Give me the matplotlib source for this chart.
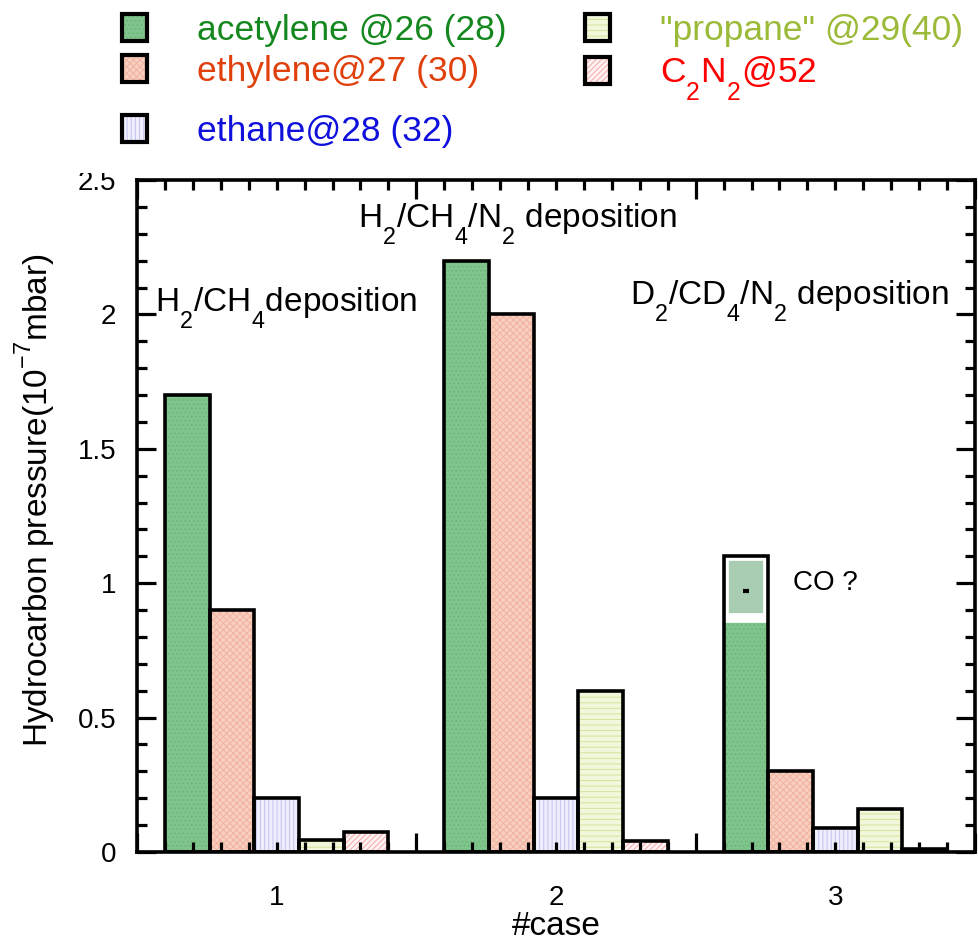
import matplotlib
matplotlib.use('Agg')
import matplotlib.pyplot as plt
from matplotlib.patches import Patch, Rectangle
from matplotlib.legend_handler import HandlerTuple
import numpy as np

try:
    import matplotlib._mathtext as _mt
    _mt.FontConstantsBase.sub1 = 0.95
    _mt.FontConstantsBase.sub2 = 0.95
    _mt.FontConstantsBase.sup1 = 0.9
except Exception:
    pass

# ---------------- data ----------------
cases = [1, 2, 3]
case_labels = ['1', '2', '3']
acetylene = [1.70, 2.20, 0.87]
ethylene = [0.90, 2.00, 0.30]
ethane = [0.20, 0.20, 0.09]
propane = [0.045, 0.60, 0.16]
c2n2 = [0.075, 0.04, 0.012]
co_case = 3
co_bottom = 0.87
co_top = 1.10
co_mark = 0.97

series_labels = ['acetylene @26 (28)', 'ethylene@27 (30)', 'ethane@28 (32)',
                 '"propane" @29(40)', r'C$_2$N$_2$@52']
yticks = [0, 0.5, 1, 1.5, 2, 2.5]
ytick_labels = ['0', '0.5', '1', '1.5', '2', '2.5']
xlabel = '#case'
ylabel = r'Hydrocarbon pressure(10$^{-7}$mbar)'
notes = [r'H$_2$/CH$_4$deposition', r'H$_2$/CH$_4$/N$_2$ deposition',
         r'D$_2$/CD$_4$/N$_2$ deposition', 'CO ?']
note_pos = [(0.564, 2.01), (1.291, 2.32), (2.265, 2.035), (2.849, 0.975)]

# ---------------- style ----------------
plt.rcParams['font.family'] = ['Liberation Sans', 'DejaVu Sans']
plt.rcParams['mathtext.fontset'] = 'custom'
plt.rcParams['mathtext.rm'] = 'Liberation Sans'
plt.rcParams['mathtext.it'] = 'Liberation Sans:italic'
plt.rcParams['mathtext.bf'] = 'Liberation Sans:bold'
plt.rcParams['hatch.linewidth'] = 0.7

fills = ['#80c48c', '#f8cfc0', '#eeeefc', '#f1f7da', '#fff2f2']
hatch_cols = ['#6ab679', '#f1b39f', '#c2c2f2', '#d3e49c', '#f5a8a8']
hatches = ['....', 'xxxxx', '||||', '---', '//////']
text_cols = ['#14881e', '#e0400c', '#1010dd', '#9aba38', '#ff0000']

fig = plt.figure(figsize=(9.79, 9.44), dpi=100)
ax = fig.add_axes([137/979, 1-852/944, (975-137)/979, (852-180)/944])

series = [acetylene, ethylene, ethane, propane, c2n2]
width = 0.16
x = np.array(cases, dtype=float)
for i, vals in enumerate(series):
    xs = x + (i - 2) * width
    ax.bar(xs, vals, width, color=fills[i], hatch=hatches[i],
           edgecolor=hatch_cols[i], linewidth=0, zorder=1)
    outline = np.array(vals, dtype=float)
    if i == 0:
        outline = np.where(x == co_case, co_top, outline)
    ax.bar(xs, outline, width, fill=False, edgecolor='black',
           linewidth=2.6, zorder=1.2)

# CO? box on top of case-3 acetylene bar
co_x = co_case - 2 * width
ax.bar([co_x], [co_top - co_bottom], width, bottom=[co_bottom],
       color='#a9cdb2', edgecolor='white', linewidth=7, zorder=1.1)
ax.plot([co_x], [co_mark], marker='_', markersize=5, mew=3, color='black',
        zorder=3)

ax.set_xlim(0.5, 3.5)
ax.set_ylim(0, 2.5)

# x ticks: long unlabeled majors between cases, minor ticks every 0.1 w/ labels at cases
ax.set_xticks([0.5, 1.5, 2.5, 3.5])
ax.set_xticklabels([])
minor_x = np.round(np.arange(0.5, 3.501, 0.1), 2)
minor_lab = [case_labels[cases.index(int(round(v)))] if abs(v - round(v)) < 1e-6 else ''
             for v in minor_x]
ax.set_xticks(minor_x, labels=minor_lab, minor=True)

ax.set_yticks(yticks, labels=ytick_labels)
ax.set_yticks(np.round(np.arange(0, 2.501, 0.1), 2), minor=True)

ax.tick_params(which='both', direction='in', top=True, right=True,
               width=2.3, color='black', labelsize=20)
ax.tick_params(which='major', length=14)
ax.tick_params(which='minor', length=7.5)
ax.tick_params(axis='y', which='major', pad=15)
ax.tick_params(axis='x', which='minor', pad=24)

for s in ax.spines.values():
    s.set_linewidth(2.6)

ax.set_xlabel(xlabel, fontsize=24, labelpad=0)
ax.set_ylabel(ylabel, fontsize=24)
ax.yaxis.set_label_coords((58 - 137) / 838, (852 - 500) / 672)

for (tx, ty), t in zip(note_pos, notes):
    ax.text(tx, ty, t, fontsize=24 if t != 'CO ?' else 20, va='baseline', ha='left',
            zorder=4)

# ---------------- legend ----------------
handles = [(Patch(facecolor=fills[i], hatch=hatches[i], edgecolor=hatch_cols[i], linewidth=0),
            Patch(fill=False, edgecolor='black', linewidth=3))
           for i in range(5)]
lkw = dict(frameon=False, fontsize=25.5, handlelength=0.71, handleheight=0.78,
           handletextpad=1.41, borderpad=0, borderaxespad=0, loc='upper left',
           handler_map={tuple: HandlerTuple(ndivide=1, pad=0)})
order_a = [0, 1, 3, 4]
leg1 = fig.legend([handles[i] for i in order_a], [series_labels[i] for i in order_a],
                  ncol=2, bbox_to_anchor=(122/979, 1 - 14/944),
                  columnspacing=2.2, labelspacing=0.22, **lkw)
for i, t in zip(order_a, leg1.get_texts()):
    t.set_color(text_cols[i])
leg2 = fig.legend([handles[2]], [series_labels[2]],
                  bbox_to_anchor=(122/979, 1 - 115/944), **lkw)
leg2.get_texts()[0].set_color(text_cols[2])

# white strip hiding the top of the highest tick label, as in the original
fig.patches.append(Rectangle((0, 1 - 173/944), 137/979, 173/944,
                             transform=fig.transFigure, facecolor='white',
                             edgecolor='none', zorder=1))

fig.savefig('out.png', dpi=100)
